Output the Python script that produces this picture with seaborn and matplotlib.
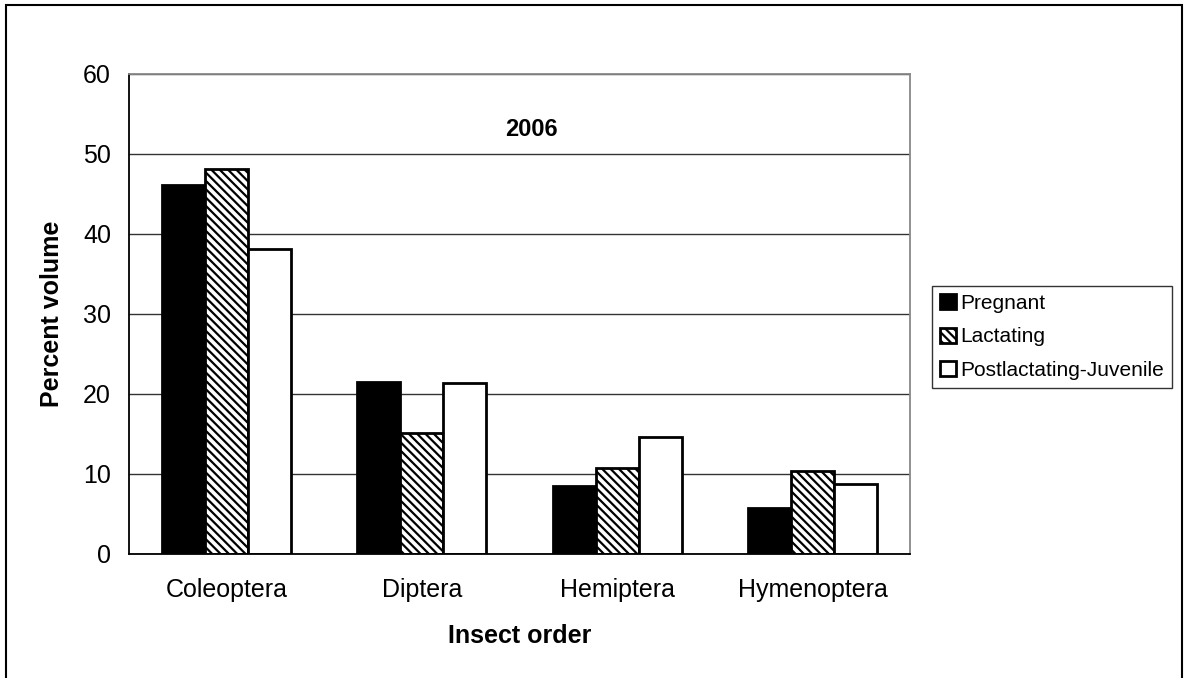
import pandas as pd
import numpy as np
import matplotlib.pyplot as plt
import seaborn as sns
from matplotlib.patches import Rectangle

# Datos (porcentaje de volumen por orden de insecto)
ordenes = ['Coleoptera', 'Diptera', 'Hemiptera', 'Hymenoptera']
grupos = ['Pregnant', 'Lactating', 'Postlactating-Juvenile']
pregnant = [46.1, 21.5, 8.5, 5.7]
lactating = [48.1, 15.1, 10.7, 10.4]
postlactating = [38.1, 21.4, 14.6, 8.8]

sns.set_style("white")
plt.rcParams['font.family'] = ['Liberation Sans', 'DejaVu Sans']
plt.rcParams['hatch.linewidth'] = 1.6
plt.rcParams['hatch.color'] = 'black'
plt.rcParams['text.color'] = 'black'
plt.rcParams['axes.labelcolor'] = 'black'
plt.rcParams['xtick.labelcolor'] = 'black'
plt.rcParams['ytick.labelcolor'] = 'black'

df = pd.DataFrame({
    'orden': ordenes * 3,
    'grupo': np.repeat(grupos, len(ordenes)),
    'volumen': pregnant + lactating + postlactating,
})

fig = plt.figure(figsize=(11.85, 6.78), dpi=100)
ax = fig.add_axes([0.1089, 0.1829, 0.768 - 0.1089, 0.8909 - 0.1829])

colores = {'Pregnant': 'black', 'Lactating': 'white', 'Postlactating-Juvenile': 'white'}
sns.barplot(data=df, x='orden', y='volumen', hue='grupo', order=ordenes,
            hue_order=grupos, palette=colores, width=0.66, saturation=1,
            edgecolor='black', linewidth=2, legend=False, ax=ax)

# Rayado para Lactating
for patch in ax.containers[1]:
    patch.set_hatch('\\\\\\\\')

ax.set_ylim(0, 60)
ax.set_xlim(-0.5, len(ordenes) - 0.5)
ax.set_yticks(range(0, 61, 10))
ax.yaxis.grid(True, color='#333333', linewidth=1)
ax.set_axisbelow(True)

# Marcas del eje x en los limites de cada categoria
ax.set_xticks(np.arange(-0.5, len(ordenes)), minor=True)
ax.tick_params(axis='x', which='major', length=0, labelsize=18, pad=17)
ax.tick_params(axis='x', which='minor', length=7, width=1, color='#555555', direction='out')
ax.tick_params(axis='y', length=7, width=1, color='#777777', direction='out', labelsize=18, pad=6)

for lado in ['left', 'bottom']:
    ax.spines[lado].set_color('black')
    ax.spines[lado].set_linewidth(1.3)
for lado in ['top', 'right']:
    ax.spines[lado].set_color('#888888')
    ax.spines[lado].set_linewidth(1.3)

ax.set_xlabel('Insect order', fontsize=18, fontweight='bold', labelpad=16)
ax.set_ylabel('Percent volume', fontsize=18, fontweight='bold', labelpad=14)
ax.text(1.56, 53, '2006', fontsize=17, fontweight='bold', ha='center', va='center')

leg = fig.legend(ax.containers, grupos, loc='center left', bbox_to_anchor=(0.7865, 0.503),
                 fontsize=15, frameon=True, fancybox=False, edgecolor='black',
                 handlelength=0.75, handleheight=0.75, handletextpad=0.2,
                 borderpad=0.4, labelspacing=0.7, borderaxespad=0)
leg.get_frame().set_linewidth(1)

# Marco exterior del grafico
fig.patches.append(Rectangle((0.005, -0.05), 0.9925, 0.9926 + 0.05, transform=fig.transFigure,
                             fill=False, edgecolor='black', linewidth=1.5, clip_on=False))

fig.savefig('out.png', dpi=100)
